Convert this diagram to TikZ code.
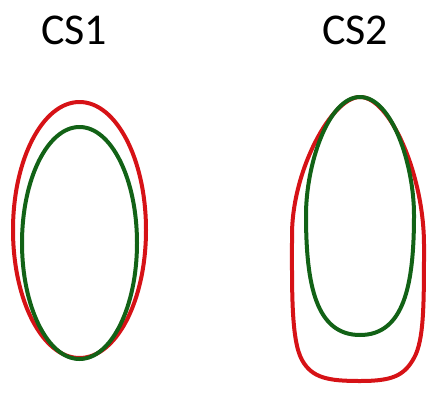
\documentclass[tikz,border=0pt]{standalone}
\usepackage{fontspec}
\setmainfont{Carlito}
\definecolor{rojo}{RGB}{214,18,22}
\definecolor{verde}{RGB}{18,98,22}

\begin{document}
\begin{tikzpicture}[
    x=1pt, y=-1pt,
    contorno/.style={line width=4pt, line join=round},
    titulo/.style={anchor=base, font=\fontsize{44}{48}\selectfont}
]
\useasboundingbox (0,0) rectangle (430,401);

% Titulos
\node[titulo] (cs1) at (74,45) {CS1};
\node[titulo] (cs2) at (355,45) {CS2};

% CS1
\draw[contorno, rojo] (79.5,230) ellipse [x radius=66.5, y radius=128];
\draw[contorno, verde] (79.5,243) ellipse [x radius=57.5, y radius=116];

% CS2
\draw[contorno, rojo] (360,97)
    .. controls (390,97) and (424,175) .. (424,245)
    .. controls (424,305) and (424,340) .. (414,358)
    .. controls (404,376) and (392,381) .. (360,381)
    .. controls (328,381) and (312,378) .. (302,360)
    .. controls (291,340) and (292,290) .. (292,235)
    .. controls (292,170) and (332,97) .. (360,97) -- cycle;
\draw[contorno, verde] (360,97)
    .. controls (392,97) and (414,165) .. (414,215)
    .. controls (414,285) and (404,335) .. (360,335)
    .. controls (316,335) and (306,285) .. (306,215)
    .. controls (306,165) and (328,97) .. (360,97) -- cycle;

\end{tikzpicture}
\end{document}
